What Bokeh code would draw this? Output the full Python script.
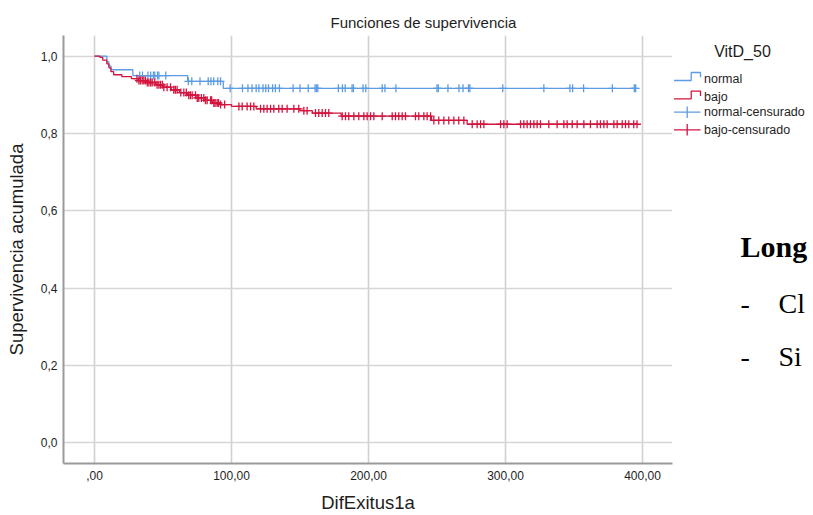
import numpy as np
from bokeh.plotting import figure
from bokeh.layouts import row
from bokeh.models import Range1d, FixedTicker
from bokeh.core.properties import value
from bokeh.embed import file_html
from bokeh.resources import INLINE

# ---------------- data ----------------
title_text = "Funciones de supervivencia"
x_label = "DifExitus1a"
y_label = "Supervivencia acumulada"
legend_title = "VitD_50"
group_names = ["normal", "bajo"]

x_ticks = [0, 100, 200, 300, 400]
x_tick_labels = [",00", "100,00", "200,00", "300,00", "400,00"]
y_ticks = [0.0, 0.2, 0.4, 0.6, 0.8, 1.0]
y_tick_labels = ["0,0", "0,2", "0,4", "0,6", "0,8", "1,0"]

# Kaplan-Meier step functions: event times and survival after each step
normal_times = [0, 9, 10.5, 12, 28, 68, 94]
normal_surv = [1.0, 0.985, 0.975, 0.965, 0.950, 0.935, 0.917]
normal_censored = [33, 35, 39, 41, 43, 44, 46, 47, 52, 68.5, 71, 77, 83, 85, 87, 90, 92,
                   99, 108, 112, 115, 118, 120, 123, 125, 127, 130, 132, 135, 145, 150,
                   156, 161, 162, 163, 178, 181, 183, 188, 189, 196, 198, 210, 212, 220,
                   250, 251, 258, 266, 269, 273, 274, 298, 328, 347, 349, 357, 378, 394, 395]

bajo_times = [0, 4, 6, 9, 10.5, 12, 14, 20, 27, 32, 38, 45, 50, 56, 62, 68, 74, 80, 86,
              92, 100, 118, 150, 159, 180, 246, 272]
bajo_surv = [1.0, 0.997, 0.990, 0.980, 0.970, 0.960, 0.952, 0.947, 0.942, 0.937, 0.932,
             0.926, 0.920, 0.913, 0.906, 0.899, 0.892, 0.886, 0.879, 0.875, 0.870, 0.864,
             0.859, 0.853, 0.845, 0.834, 0.824]
bajo_censored = [31, 32.4, 33.5, 34.8, 36, 37.2, 38.5, 39.7, 41, 42.1, 44, 45.7, 47, 48.2,
                 49.5, 50.6, 53, 55.5, 57.9, 59, 60.3, 63, 65.2, 67, 68.8, 70, 71.3, 73.7,
                 75, 76.1, 78, 79.8, 81, 82.2, 84.7, 85.5, 87.1, 88, 89.5, 90.5, 92.0, 95,
                 105.4, 107.8, 111.4, 113.9, 116.3, 121.2, 123.6, 126.0, 128.5, 130.9, 134.5,
                 137.0, 140.6, 145.5, 149.1, 152.8, 155.2, 161.3, 163.7, 166.2, 168.6, 171.0,
                 180.8, 183.2, 185.6, 189.3, 192.9, 196.6, 199.0, 201.5, 203.9, 210.0, 217.3,
                 219.7, 222.1, 224.6, 227.0, 234.3, 236.7, 240.4, 242.8, 245.3, 247.7, 251.3,
                 255.0, 258.6, 262.3, 265.9, 269.6, 275.7, 279.3, 281.8, 284.2, 296.4, 298.8,
                 301.2, 311.0, 313.4, 315.8, 318.2, 320.7, 323.1, 325.5, 331.6, 337.7, 342.6,
                 345.0, 348.7, 352.3, 357.2, 362.0, 366.9, 369.3, 371.8, 374.2, 379.1, 381.5,
                 385.2, 387.6, 390.0, 393.6, 396.0]

slide_lines = ["Long", "Cl", "Si"]

# ---------------- styling ----------------
BLUE = "#5C9CE2"
RED = "#D3143E"
FONT = "Liberation Sans"
TXT = "#1e1e1e"

W, H = 813, 515
MAIN_W = 673
TOP, BOTTOM = 35, 52

p = figure(width=MAIN_W, height=H, output_backend="svg", toolbar_location=None,
           title=title_text,
           x_range=Range1d(-22.63, 421.9), y_range=Range1d(-0.0536, 1.0536),
           min_border_left=63, min_border_right=1, min_border_top=TOP,
           min_border_bottom=BOTTOM)
p.outline_line_color = None
p.background_fill_color = "white"
p.border_fill_color = "white"
p.title.align = "left"
p.title.offset = 267
p.title.standoff = 9
p.title.text_font = FONT
p.title.text_font_size = "15px"
p.title.text_font_style = "normal"
p.title.text_color = TXT

for ax in (p.xaxis[0], p.yaxis[0]):
    ax.axis_line_color = "#9a9a9a"
    ax.axis_line_width = 2
    ax.major_tick_line_color = None
    ax.minor_tick_line_color = None
    ax.major_tick_out = 0
    ax.major_tick_in = 0
    ax.major_label_text_font = FONT
    ax.major_label_text_font_size = "12px"
    ax.major_label_text_color = TXT
    ax.axis_label_text_font = FONT
    ax.axis_label_text_font_size = "18.5px"
    ax.axis_label_text_font_style = "normal"
    ax.axis_label_text_color = TXT

p.xaxis.ticker = FixedTicker(ticks=x_ticks)
p.xaxis.major_label_overrides = dict(zip(x_ticks, x_tick_labels))
p.yaxis.ticker = FixedTicker(ticks=y_ticks)
p.yaxis.major_label_overrides = dict(zip(y_ticks, y_tick_labels))
p.xaxis.axis_label = x_label
p.yaxis.axis_label = y_label
p.xaxis.major_label_standoff = 7
p.xaxis.axis_label_standoff = 9
p.yaxis.major_label_standoff = 6
p.yaxis.axis_label_standoff = 11

p.xgrid.grid_line_color = "#d0d0d0"
p.xgrid.grid_line_width = 1.6
p.ygrid.grid_line_color = "#d6d6d6"
p.ygrid.grid_line_width = 1.6


def step_value(times, surv, t):
    idx = np.searchsorted(np.asarray(times, float), np.asarray(t, float), side="right") - 1
    return np.asarray(surv, float)[idx]


for times, surv, cens, col in [(normal_times, normal_surv, normal_censored, BLUE),
                               (bajo_times, bajo_surv, bajo_censored, RED)]:
    xs = list(times) + [max(cens)]
    ys = list(surv) + [surv[-1]]
    p.step(xs, ys, mode="after", line_color=col, line_width=1.3)
    p.scatter(cens, step_value(times, surv, cens), marker="cross", size=8,
              line_color=col, line_width=1.3)

# ---------------- side panel: legend + slide text ----------------
# its frame is aligned with the main frame (pixels TOP .. H-BOTTOM), so the
# y range is expressed directly in window pixels
side = figure(width=W - MAIN_W, height=H, output_backend="svg", toolbar_location=None,
              x_range=Range1d(MAIN_W, W), y_range=Range1d(H - BOTTOM, TOP),
              x_axis_type=None, y_axis_type=None, min_border_left=0, min_border_right=0,
              min_border_top=TOP, min_border_bottom=BOTTOM)
side.outline_line_color = None
side.grid.visible = False
side.background_fill_color = "white"
side.border_fill_color = "white"

side.text([742], [51.0], text=[legend_title], text_align="center", text_baseline="middle",
          text_font=value(FONT), text_font_size="16px", text_color=TXT)

leg_labels = [group_names[0], group_names[1],
              group_names[0] + "-censurado", group_names[1] + "-censurado"]
leg_y = [78.3, 96.0, 111.7, 129.3]
side.text([703.5] * 4, leg_y, text=leg_labels, text_align="left", text_baseline="middle",
          text_font=value(FONT), text_font_size="12.5px", text_color=TXT)

# step icons
for yb, yt, col in [(80.0, 72.0, BLUE), (98.3, 90.7, RED)]:
    side.line([673.5, 690.7, 690.7, 700, 700], [yb, yb, yt, yt, yt + 4.7],
              line_color=col, line_width=1.3)
# cross icons
for yc, col in [(111.7, BLUE), (129.3, RED)]:
    side.segment([673.5], [yc], [700], [yc], line_color=col, line_width=1.3)
    side.segment([686.7], [yc - 5.7], [686.7], [yc + 5.7], line_color=col, line_width=1.3)

# slide text partially visible at the right edge
side.text([740], [246], text=[slide_lines[0]], text_align="left", text_baseline="middle",
          text_font=value("Liberation Serif"), text_font_size="30px",
          text_font_style="bold", text_color="black")
side.text([740, 740], [303, 356], text=["-", "-"], text_align="left",
          text_baseline="middle", text_font=value("Liberation Serif"),
          text_font_size="28px", text_color="black")
side.text([778, 778], [303, 356], text=slide_lines[1:], text_align="left",
          text_baseline="middle", text_font=value("Liberation Serif"),
          text_font_size="28px", text_color="black")

layout = row(p, side, spacing=0)
open("out.html", "w").write(file_html(layout, INLINE))
